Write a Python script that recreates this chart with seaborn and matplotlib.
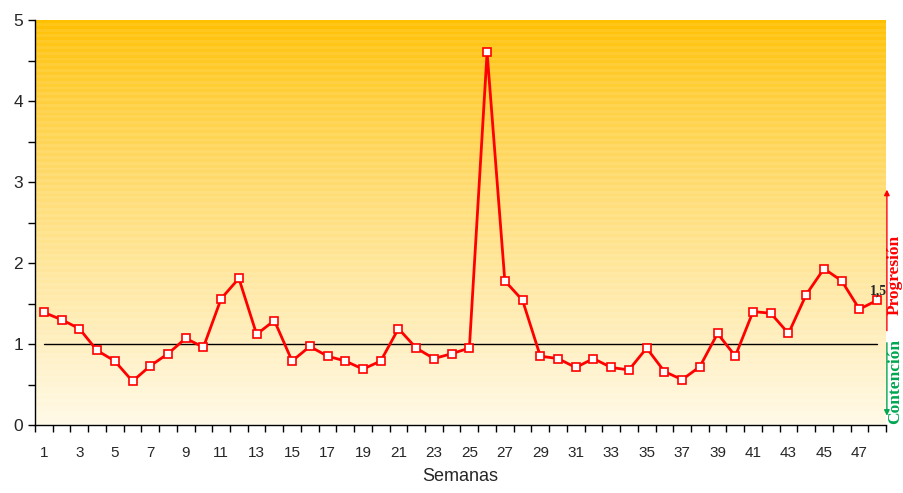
import numpy as np
import pandas as pd
import matplotlib
matplotlib.use("Agg")
import matplotlib.pyplot as plt
import seaborn as sns

# Weekly values
semanas = list(range(1, 49))
valores = [1.39, 1.30, 1.19, 0.92, 0.79, 0.54, 0.73, 0.88, 1.07, 0.96,
           1.56, 1.81, 1.12, 1.29, 0.79, 0.97, 0.85, 0.79, 0.69, 0.79,
           1.19, 0.95, 0.82, 0.88, 0.95, 4.60, 1.78, 1.54, 0.85, 0.82,
           0.71, 0.82, 0.71, 0.68, 0.95, 0.66, 0.56, 0.72, 1.13, 0.85,
           1.40, 1.38, 1.13, 1.61, 1.93, 1.78, 1.43, 1.54]
etiqueta_final = "1,5"
umbral = 1.0
xtick_labels = [str(w) for w in semanas if w % 2 == 1]

sns.set_style("ticks")
plt.rcParams['font.family'] = ['Liberation Sans', 'DejaVu Sans']

df = pd.DataFrame({"Semanas": semanas, "valor": valores})

fig = plt.figure(figsize=(9.04, 4.93), dpi=100)
ax = fig.add_axes([35 / 904, 1 - 425 / 493, 851 / 904, 405 / 493])

# gradient background (orange on top, cream at the bottom) with faint banding
n = 140
t = np.linspace(0, 1, n)[:, None]  # 0 = top
top = np.array([255, 192, 0]) / 255
bot = np.array([255, 249, 230]) / 255
f = t ** 0.8
grad = top * (1 - f) + bot * f
band = np.where(np.arange(n) % 2 == 0, 0.0, 0.08)[:, None]
grad = np.clip(grad + band * (1 - grad), 0, 1)
img = np.repeat(grad[:, None, :], 2, axis=1)
ax.imshow(img, extent=(0.5, 48.5, 0, 5), aspect="auto", zorder=0, interpolation="nearest")

ax.plot([1, 48], [umbral, umbral], color="black", lw=1, zorder=2)

sns.lineplot(data=df, x="Semanas", y="valor", ax=ax, color="#FF0000", lw=2,
             marker="s", markersize=6, markerfacecolor="white",
             markeredgecolor="#FF0000", markeredgewidth=1.2, zorder=3)

ax.set_xlim(0.5, 48.5)
ax.set_ylim(0, 5)
ax.set_xticks([w for w in semanas if w % 2 == 1])
ax.set_xticklabels(xtick_labels, fontsize=11)
ax.set_xticks(np.arange(0.5, 49, 1), minor=True)
ax.tick_params(axis="x", which="major", length=0, pad=15)
ax.tick_params(axis="x", which="minor", length=5, width=1, color="black")
ax.set_yticks(range(0, 6))
ax.set_yticks(np.arange(0.5, 5, 1), minor=True)
ax.tick_params(axis="y", which="major", length=5, labelsize=12.5, width=1, color="black")
ax.tick_params(axis="y", which="minor", length=5, width=1, color="black")
ax.set_xlabel("Semanas", fontsize=13, labelpad=6)
ax.set_ylabel("")
for s in ["top", "right"]:
    ax.spines[s].set_visible(False)
for s in ["left", "bottom"]:
    ax.spines[s].set_color("black")
    ax.spines[s].set_linewidth(1)

ax.text(semanas[-1] + 0.1, valores[-1] + 0.03, etiqueta_final, fontsize=10,
        fontweight="bold", family="Liberation Serif", ha="center", va="bottom", zorder=4)

# progression / containment arrows on the right edge
ax.annotate("", xy=(48.55, 2.94), xytext=(48.55, 1.13),
            arrowprops=dict(arrowstyle="-|>", color="#FF0000", lw=1, mutation_scale=8),
            annotation_clip=False)
ax.annotate("", xy=(48.55, 0.08), xytext=(48.55, 1.05),
            arrowprops=dict(arrowstyle="-|>", color="#00A650", lw=1, mutation_scale=8),
            annotation_clip=False)
fig.text(903 / 904, 1 - 275 / 493, "Progresión", rotation=90, color="#FF0000",
         fontsize=12.5, fontweight="bold", family="Liberation Serif", ha="right", va="center")
fig.text(903 / 904, 1 - 382 / 493, "Contención", rotation=90, color="#00A650",
         fontsize=12.5, fontweight="bold", family="Liberation Serif", ha="right", va="center")

fig.savefig("out.png", dpi=100)
